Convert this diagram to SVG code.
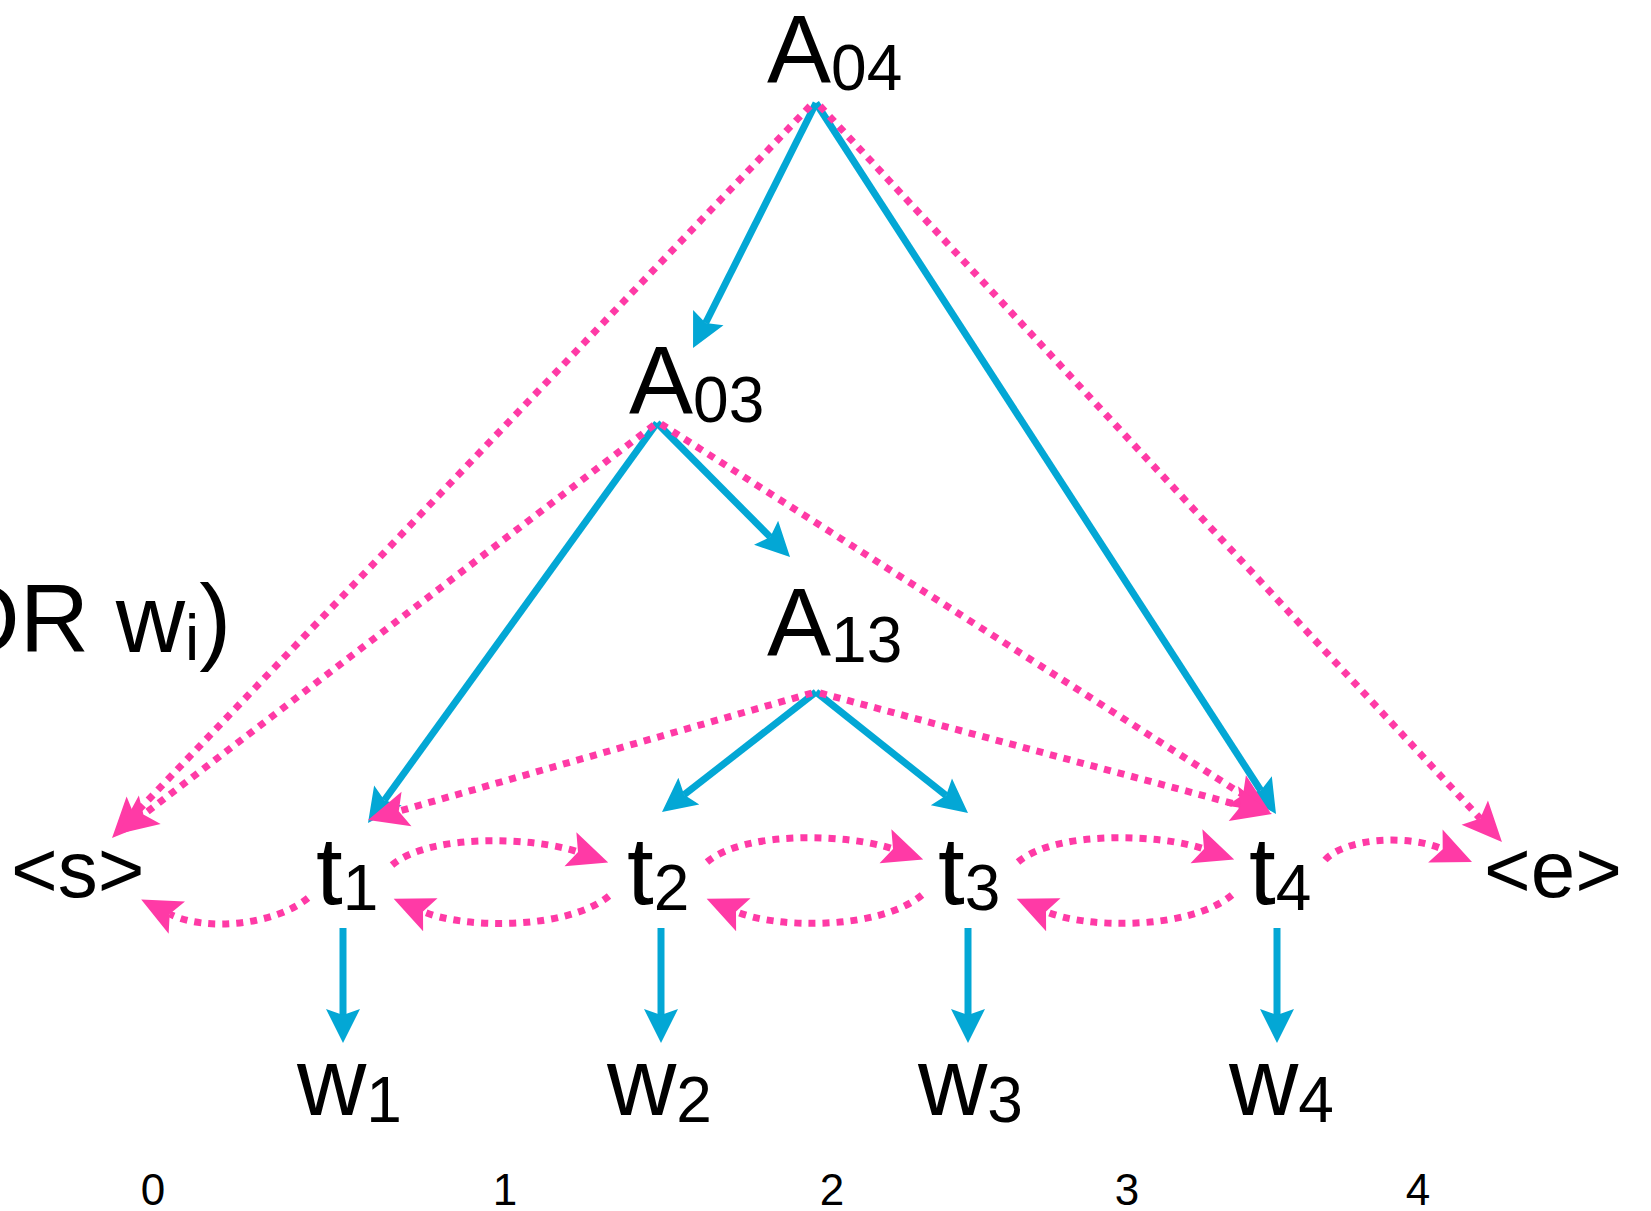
<svg xmlns="http://www.w3.org/2000/svg" width="1651" height="1211" viewBox="0 0 1651 1211">
<style>
text{font-family:"Liberation Sans",Arial,sans-serif;fill:#000}
.big{font-size:96px}
.mid{font-size:80px}
.sub{font-size:64px}
.idx{font-size:44px;text-anchor:middle}
.b{stroke:#03a7d5;stroke-width:7;fill:none;marker-end:url(#hb)}
.p{stroke:#ff3aa6;stroke-width:7;fill:none;stroke-dasharray:7 7;marker-end:url(#hp)}
</style>
<defs>
<marker id="hb" markerUnits="userSpaceOnUse" orient="auto" refX="0" refY="0" markerWidth="80" markerHeight="80" viewBox="-20 -40 80 80" overflow="visible">
<path d="M28,0 L-6,-17 L0,0 L-6,17 Z" fill="#03a7d5"/>
</marker>
<marker id="hp" markerUnits="userSpaceOnUse" orient="auto" refX="0" refY="0" markerWidth="80" markerHeight="80" viewBox="-20 -40 80 80" overflow="visible">
<path d="M32,0 L-8,-18 L0,0 L-8,18 Z" fill="#ff3aa6"/>
</marker>
</defs>
<rect width="1651" height="1211" fill="#fff"/>

<g id="connectors">
<line class="b" x1="816" y1="103" x2="705.6" y2="323"/>
<line class="b" x1="816" y1="103" x2="1260.8" y2="790.5"/>
<line class="b" x1="657" y1="423" x2="384.4" y2="800.3"/>
<line class="b" x1="657" y1="423" x2="770.3" y2="537.1"/>
<line class="b" x1="816" y1="692" x2="684.1" y2="794.8"/>
<line class="b" x1="816" y1="692" x2="946.1" y2="795.6"/>
<line class="b" x1="343" y1="928" x2="343" y2="1015"/>
<line class="b" x1="661" y1="928" x2="661" y2="1015"/>
<line class="b" x1="968" y1="928" x2="968" y2="1015"/>
<line class="b" x1="1277" y1="928" x2="1277" y2="1015"/>
<line class="p" x1="810" y1="106" x2="134.1" y2="814.8"/>
<line class="p" x1="654" y1="425" x2="143.4" y2="814.6"/>
<line class="p" x1="820" y1="106" x2="1480.2" y2="818.5"/>
<line class="p" x1="661" y1="424" x2="1243" y2="794.8"/>
<line class="p" x1="812" y1="693" x2="398.8" y2="811.2"/>
<line class="p" x1="820" y1="693" x2="1241.1" y2="805.7"/>
<path class="p" d="M392,865 C430,833 535,837 578,852"/>
<path class="p" d="M707,862 C745,830 850,834 893,849"/>
<path class="p" d="M1018,862 C1056,830 1161,834 1204,849"/>
<path class="p" d="M1325,860 C1345,838 1408,834 1442.7,849.2"/>
<path class="p" d="M308,898 C275,925 205,932 169.7,914"/>
<path class="p" d="M609,896 C567,930 463,929 423,911.5"/>
<path class="p" d="M922,895 C880,930 776,929 736,911.5"/>
<path class="p" d="M1232,895 C1190,930 1086,929 1046,911.5"/>
</g>

<g id="node-left-label"><text class="big" x="-55" y="652">OR w<tspan class="sub" dy="8">i</tspan><tspan class="big" dy="-8">)</tspan></text></g>

<g id="A04"><text class="big" x="767" y="82">A<tspan class="sub" dy="8">04</tspan></text></g>
<g id="A03"><text class="big" x="629" y="413">A<tspan class="sub" dy="9">03</tspan></text></g>
<g id="A13"><text class="big" x="767" y="655">A<tspan class="sub" dy="7">13</tspan></text></g>

<g id="s"><text class="mid" x="11" y="897">&lt;s&gt;</text></g>
<g id="t1"><text class="big" x="316" y="904">t<tspan class="sub" dy="6">1</tspan></text></g>
<g id="t2"><text class="big" x="627" y="904">t<tspan class="sub" dy="6">2</tspan></text></g>
<g id="t3"><text class="big" x="938" y="904">t<tspan class="sub" dy="6">3</tspan></text></g>
<g id="t4"><text class="big" x="1249" y="904">t<tspan class="sub" dy="6">4</tspan></text></g>
<g id="e"><text class="mid" x="1484" y="897">&lt;e&gt;</text></g>

<g id="w1"><text class="big" x="297" y="1115">w<tspan class="sub" dy="7">1</tspan></text></g>
<g id="w2"><text class="big" x="607" y="1115">w<tspan class="sub" dy="7">2</tspan></text></g>
<g id="w3"><text class="big" x="918" y="1115">w<tspan class="sub" dy="7">3</tspan></text></g>
<g id="w4"><text class="big" x="1229" y="1115">w<tspan class="sub" dy="7">4</tspan></text></g>

<g id="indices">
<text class="idx" x="153" y="1205">0</text>
<text class="idx" x="505" y="1205">1</text>
<text class="idx" x="832" y="1205">2</text>
<text class="idx" x="1127" y="1205">3</text>
<text class="idx" x="1418" y="1205">4</text>
</g>
</svg>
